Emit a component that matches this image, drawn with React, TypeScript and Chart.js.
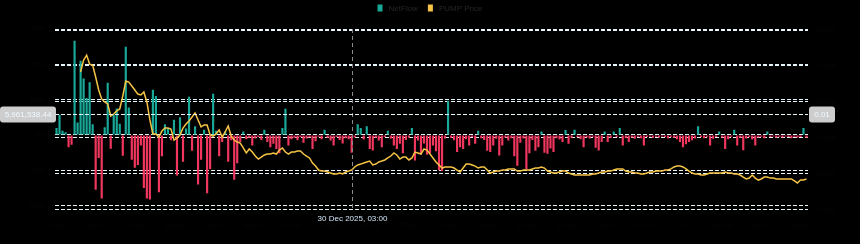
import { useEffect, useRef } from 'react';
import { Chart, registerables } from 'chart.js';

Chart.register(...registerables);

// Hourly net flow, in millions of tokens
const netFlowM = [
  2.0, 5.7, 1.2, 0.8, -3.5, -2.8, 26.7, 3.5, 21.0, 16.0,
  10.5, 14.9, 3.0, -15.5, -6.5, -18.0, 2.2, 14.8, -3.9, 5.7,
  7.5, 3.2, -5.9, 25.0, 7.8, -7.0, -9.3, -8.5, -3.0, -15.0,
  -18.0, -18.3, 12.8, 11.0, -16.2, -6.0, 3.0, 2.0, -1.5, 4.3,
  -11.5, 5.0, -7.6, 1.8, 10.8, -4.5, 2.5, -14.0, -7.0, 1.5,
  -16.5, -9.6, 11.7, 1.2, -6.0, -2.0, 1.0, -7.6, -1.5, -12.7,
  -8.0, -2.0, 1.0, -1.2, -0.8, -3.0, -1.0, -0.6, -1.4, 1.5,
  -2.0, -3.5, -2.5, -4.0, -5.2, 2.0, 7.4, -3.0, -1.2, -0.8,
  -1.5, -0.6, -2.2, -1.0, -0.7, -4.0, -1.8, -0.5, -1.2, 1.5,
  -0.8, -1.6, -3.0, -0.6, -1.4, -2.4, -0.9, -1.2, -5.0, -0.7,
  3.0, 2.0, -1.3, 2.5, -4.0, -4.4, -0.8, -1.6, -3.5, -0.6,
  1.2, -1.0, -3.0, -4.0, -2.5, -5.2, -1.4, -0.7, 2.0, -7.2,
  -1.6, -5.5, -2.4, -5.6, -5.2, -3.0, -4.6, -10.0, -10.2, -1.0,
  9.7, -0.8, -1.5, -4.8, -3.5, -4.0, -1.2, -3.0, -0.6, -2.5,
  1.2, -0.9, -1.4, -4.5, -4.8, -3.0, -1.1, -5.8, -3.0, -0.7,
  -1.6, -0.9, -6.0, -8.7, -2.2, -1.0, -9.8, -5.2, -1.4, -4.5,
  -3.5, 1.0, -5.0, -5.3, -3.8, -4.8, -0.9, -1.3, -2.0, 1.4,
  -2.5, -0.8, 1.5, -0.6, -1.2, -3.5, -0.7, -1.0, -0.5, -3.6,
  -4.4, -2.0, 1.0, -2.0, -0.8, 1.0, -0.6, 2.0, -3.0, -0.9,
  -2.0, -0.7, -1.1, -0.5, -0.9, -3.0, -0.6, -0.4, -0.8, -0.5,
  -0.7, -0.4, -0.6, -1.0, -0.5, -0.8, -1.2, -2.0, -3.5, -2.6,
  -2.0, -1.5, -1.0, 2.5, -0.6, -0.9, -0.5, -3.0, -1.1, -0.6,
  1.0, -0.7, -4.0, -1.2, -0.5, 1.5, -3.0, -0.8, -4.3, -1.0,
  -0.6, -1.3, -3.0, -0.7, -0.5, -0.9, 1.0, -0.6, -0.4, -0.8,
  -0.5, -0.7, -0.4, -0.6, -0.9, -0.5, -0.7, -0.6, 2.0, -0.8,
];

// PUMP price, in thousandths of a dollar (no quotes for the first hours)
const pumpPriceMilli = [
  null, null, null, null, null, null, null, null, 7.66, 8.33,
  8.6, 8.1, 8.05, 7.38, 6.66, 6.16, 5.99, 5.88, 5.21, 5.32,
  5.49, 5.6, 6.32, 7.16, 7.1, 6.88, 6.66, 6.43, 6.38, 6.55,
  5.99, 4.99, 4.21, 4.21, 4.04, 4.37, 4.54, 4.54, 4.48, 3.87,
  3.98, 4.15, 4.54, 4.76, 4.93, 5.15, 5.38, 4.99, 4.6, 4.71,
  4.71, 4.15, 4.09, 4.21, 4.43, 4.04, 4.32, 4.65, 4.09, 3.87,
  3.76, 3.7, 3.43, 3.15, 3.37, 3.2, 2.98, 2.81, 2.92, 3.04,
  3.09, 3.09, 3.15, 3.09, 3.31, 3.43, 3.2, 3.09, 3.2, 3.2,
  3.26, 3.26, 3.09, 2.98, 2.87, 2.59, 2.42, 2.2, 2.14, 2.14,
  2.09, 2.03, 1.98, 1.98, 2.03, 1.98, 2.09, 2.14, 2.2, 2.37,
  2.48, 2.53, 2.59, 2.65, 2.7, 2.48, 2.53, 2.65, 2.7, 2.76,
  2.87, 2.98, 3.15, 3.04, 2.81, 2.92, 2.92, 2.76, 2.87, 3.2,
  3.15, 3.09, 3.37, 3.31, 3.09, 2.87, 2.65, 2.48, 2.31, 2.37,
  2.37, 2.37, 2.31, 2.2, 2.09, 2.31, 2.53, 2.53, 2.48, 2.42,
  2.31, 2.37, 2.37, 2.2, 2.03, 2.09, 2.14, 2.14, 2.2, 2.2,
  2.26, 2.26, 2.26, 2.14, 2.14, 2.2, 2.2, 2.2, 2.26, 2.31,
  2.31, 2.37, 2.31, 2.14, 2.09, 2.03, 2.03, 2.09, 2.14, 2.14,
  2.03, 1.98, 1.92, 1.92, 1.92, 1.92, 1.92, 1.92, 1.98, 1.98,
  2.03, 2.09, 2.09, 2.14, 2.14, 2.2, 2.26, 2.26, 2.26, 2.14,
  2.09, 2.09, 2.03, 2.03, 1.98, 1.98, 2.03, 2.09, 2.09, 2.14,
  2.14, 2.14, 2.2, 2.2, 2.26, 2.37, 2.42, 2.42, 2.37, 2.26,
  2.14, 2.03, 1.98, 1.98, 1.92, 1.92, 1.98, 2.03, 2.03, 2.03,
  2.03, 2.03, 2.09, 2.03, 2.03, 1.98, 1.98, 1.92, 1.81, 1.7,
  1.75, 1.92, 1.75, 1.64, 1.7, 1.81, 1.81, 1.75, 1.75, 1.7,
  1.7, 1.7, 1.7, 1.7, 1.7, 1.59, 1.48, 1.64, 1.64, 1.7,
];

const MONTHS = ['Jan', 'Feb', 'Mar', 'Apr', 'May', 'Jun', 'Jul', 'Aug', 'Sep', 'Oct', 'Nov', 'Dec'];
const FIRST_HOUR = Date.UTC(2025, 11, 26, 1);
const pad2 = (n: number) => String(n).padStart(2, '0');
const hourLabels = netFlowM.map((_, i) => {
  const d = new Date(FIRST_HOUR + i * 3600 * 1000);
  return `${d.getUTCDate()} ${MONTHS[d.getUTCMonth()]} ${d.getUTCFullYear()}, ${pad2(d.getUTCHours())}:00`;
});

// Hovered point shown by the crosshair
const CROSS_INDEX = 98;
const CROSS_FLOW = 5961538.44;

const FLOW_MIN = -21.1e6;
const FLOW_MAX = 30e6;
const FLOW_STEP = 10e6;
const PRICE_MAX = 0.010056;
const PRICE_STEP = 0.002;

const TEAL = '#18a999';
const RED = '#f2375f';
const GOLD = '#f6c445';
const GRID = '#e6f5f9';
const FAINT = '#060606';
const FONT = "'Helvetica Neue', Helvetica, Arial, sans-serif";

const overlay = {
  id: 'overlay',
  beforeDraw(chart: any) {
    const { ctx, width, height } = chart;
    ctx.save();
    ctx.fillStyle = '#000';
    ctx.fillRect(0, 0, width, height);
    ctx.restore();
  },
  afterDraw(chart: any) {
    const { ctx, chartArea, scales } = chart;
    const cx = Math.round(scales.x.getPixelForValue(CROSS_INDEX)) + 0.5;
    const cy = Math.round(scales.y.getPixelForValue(CROSS_FLOW)) + 0.5;
    ctx.save();

    // crosshair lines
    ctx.lineWidth = 1;
    ctx.setLineDash([4, 3]);
    ctx.strokeStyle = '#8a8a8a';
    ctx.beginPath();
    ctx.moveTo(cx, chartArea.top);
    ctx.lineTo(cx, chartArea.bottom);
    ctx.stroke();
    ctx.setLineDash([4, 2]);
    ctx.strokeStyle = GRID;
    ctx.beginPath();
    ctx.moveTo(chartArea.left, cy);
    ctx.lineTo(chartArea.right, cy);
    ctx.stroke();
    ctx.setLineDash([]);

    // value tags on both axes
    ctx.font = `8px ${FONT}`;
    ctx.textBaseline = 'middle';
    ctx.textAlign = 'center';
    const leftText = CROSS_FLOW.toLocaleString('en-US', { minimumFractionDigits: 2, maximumFractionDigits: 2 });
    const rightText = scales.y1.getValueForPixel(cy).toFixed(2);
    const tag = (x: number, w: number, text: string) => {
      ctx.fillStyle = '#cdcdcd';
      ctx.beginPath();
      ctx.roundRect(x, cy - 8, w, 16, 3);
      ctx.fill();
      ctx.fillStyle = '#eef8ff';
      ctx.fillText(text, x + w / 2, cy + 0.5);
    };
    tag(0, chartArea.left + 1, leftText);
    tag(chartArea.right + 1, 26, rightText);

    // time tag under the x axis
    ctx.fillStyle = '#d2e6f7';
    ctx.fillText(hourLabels[CROSS_INDEX], cx, chartArea.bottom + 9);

    // legend
    const items = [
      { text: 'NetFlow', color: TEAL },
      { text: 'PUMP Price', color: GOLD },
    ];
    const boxW = 5;
    const gap = 6;
    const between = 10;
    const widths = items.map((it) => ctx.measureText(it.text).width);
    const total = widths.reduce((a, w) => a + boxW + gap + w, 0) + between * (items.length - 1);
    let lx = chart.width / 2 - total / 2;
    ctx.textAlign = 'left';
    items.forEach((it, k) => {
      ctx.fillStyle = it.color;
      ctx.fillRect(lx, 4.5, boxW, 7);
      ctx.fillStyle = '#262626';
      ctx.fillText(it.text, lx + boxW + gap, 8.5);
      lx += boxW + gap + widths[k] + between;
    });
    ctx.restore();
  },
};

export default function App() {
  const canvasRef = useRef<HTMLCanvasElement | null>(null);

  useEffect(() => {
    document.body.style.margin = '0';
    document.body.style.background = '#000';
    const canvas = canvasRef.current;
    if (!canvas) return;

    const chart = new Chart(canvas, {
      data: {
        labels: hourLabels,
        datasets: [
          {
            type: 'line',
            label: 'PUMP Price',
            data: pumpPriceMilli.map((v) => (v === null ? null : v / 1000)),
            yAxisID: 'y1',
            borderColor: GOLD,
            borderWidth: 1.5,
            pointRadius: 0,
            tension: 0,
            spanGaps: false,
            order: 0,
          },
          {
            type: 'bar',
            label: 'NetFlow',
            data: netFlowM.map((v) => v * 1e6),
            yAxisID: 'y',
            backgroundColor: netFlowM.map((v) => (v >= 0 ? TEAL : RED)),
            borderWidth: 0,
            barPercentage: 0.8,
            categoryPercentage: 0.9,
            order: 1,
          },
        ],
      },
      options: {
        responsive: false,
        animation: false,
        layout: { padding: { top: 29, left: 0, right: 0, bottom: 0 } },
        plugins: {
          legend: { display: false },
          tooltip: { enabled: false },
        },
        scales: {
          x: {
            grid: { display: false },
            border: { display: false },
            ticks: {
              color: FAINT,
              font: { size: 8, family: FONT },
              maxRotation: 0,
              autoSkip: true,
              autoSkipPadding: 16,
              callback: (_v: any, i: number) => hourLabels[i].split(', ')[1],
            },
            afterFit: (s: any) => {
              s.height = 34.5;
            },
          },
          y: {
            position: 'left',
            min: FLOW_MIN,
            max: FLOW_MAX,
            grid: { color: GRID, lineWidth: 1, drawTicks: false },
            border: { display: false, dash: [4, 2] },
            ticks: {
              color: FAINT,
              padding: 10,
              font: { size: 8, family: FONT },
              callback: (v: any) => (Number(v) % FLOW_STEP === 0 ? `${Number(v) / 1e6}M` : ''),
            },
            afterBuildTicks: (s: any) => {
              const t = [{ value: FLOW_MIN }];
              for (let v = -20e6; v <= FLOW_MAX; v += FLOW_STEP) t.push({ value: v });
              s.ticks = t;
            },
            afterFit: (s: any) => {
              s.width = 55;
            },
          },
          y1: {
            position: 'right',
            min: 0,
            max: PRICE_MAX,
            grid: { color: GRID, lineWidth: 1, drawTicks: false },
            border: { display: false, dash: [4, 2] },
            ticks: {
              color: FAINT,
              padding: 8,
              font: { size: 8, family: FONT },
              callback: (v: any) => (Number(v) <= 0.01 + 1e-9 ? Number(v).toFixed(3) : ''),
            },
            afterBuildTicks: (s: any) => {
              const t = [];
              for (let k = 0; k <= 5; k++) t.push({ value: k * PRICE_STEP });
              t.push({ value: PRICE_MAX });
              s.ticks = t;
            },
            afterFit: (s: any) => {
              s.width = 52;
            },
          },
        },
      } as any,
      plugins: [overlay],
    } as any);

    return () => chart.destroy();
  }, []);

  return (
    <div style={{ width: 860, height: 244, background: '#000' }}>
      <canvas ref={canvasRef} width={860} height={244} style={{ display: 'block' }} />
    </div>
  );
}
